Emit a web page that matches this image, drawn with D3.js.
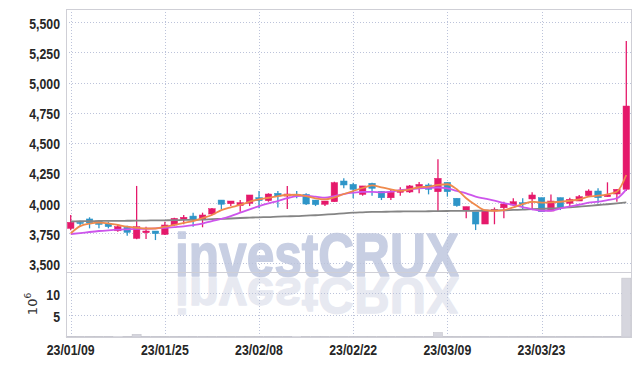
<!DOCTYPE html>
<html>
<head>
<meta charset="utf-8">
<script src="https://cdn.jsdelivr.net/npm/d3@7"></script>
<style>
    body { margin: 0; background: #fff; }
    svg { display: block; }
</style>
</head>
<body>
<svg id="chart"></svg>
<script>
var dates = [
    "23/01/09", "23/01/10", "23/01/11", "23/01/12", "23/01/13", "23/01/16", "23/01/17", "23/01/18", "23/01/19", "23/01/20",
    "23/01/25", "23/01/26", "23/01/27", "23/01/30", "23/01/31", "23/02/01", "23/02/02", "23/02/03", "23/02/06", "23/02/07",
    "23/02/08", "23/02/09", "23/02/10", "23/02/13", "23/02/14", "23/02/15", "23/02/16", "23/02/17", "23/02/20", "23/02/21",
    "23/02/22", "23/02/23", "23/02/24", "23/02/27", "23/02/28", "23/03/02", "23/03/03", "23/03/06", "23/03/07", "23/03/08",
    "23/03/09", "23/03/10", "23/03/13", "23/03/14", "23/03/15", "23/03/16", "23/03/17", "23/03/20", "23/03/21", "23/03/22",
    "23/03/23", "23/03/24", "23/03/27", "23/03/28", "23/03/29", "23/03/30", "23/03/31", "23/04/03", "23/04/04", "23/04/05"
];
var open = [3790, 3840, 3868, 3851, 3829, 3770, 3799, 3707, 3754, 3768,
    3740, 3818, 3865, 3892, 3865, 3909, 4025, 3995, 3978, 3998,
    4045, 4020, 4081, 4058, 4072, 4072, 4025, 3990, 4011, 4183,
    4155, 4072, 4164, 4097, 4044, 4089, 4092, 4136, 4150, 4094,
    4172, 4040, 3937, 3926, 3826, 3934, 3961, 3984, 4003, 4034,
    4045, 3934, 4045, 3998, 4017, 4061, 4100, 4053, 4075, 4114];
var high = [3900, 3853, 3882, 3859, 3845, 3818, 3812, 4142, 3804, 3768,
    3845, 3878, 3901, 3920, 3920, 3959, 4025, 4017, 4025, 4067,
    4100, 4081, 4100, 4142, 4100, 4081, 4025, 4017, 4177, 4205,
    4169, 4142, 4169, 4097, 4108, 4131, 4150, 4175, 4164, 4363,
    4172, 4040, 3970, 3926, 3942, 3963, 4011, 4040, 4040, 4089,
    4045, 4072, 4045, 4045, 4067, 4114, 4122, 4172, 4114, 5345];
var low = [3775, 3804, 3790, 3790, 3790, 3762, 3729, 3700, 3702, 3693,
    3735, 3812, 3824, 3804, 3799, 3901, 3948, 3975, 3928, 3975,
    3957, 4011, 3964, 3951, 4040, 3984, 3975, 3975, 4011, 4122,
    4040, 4061, 4061, 4025, 4025, 4061, 4083, 4081, 4072, 3934,
    4053, 3970, 3874, 3776, 3826, 3824, 3874, 3975, 3942, 3942,
    3928, 3934, 3942, 3965, 4017, 4053, 3998, 4053, 4011, 4100];
var close = [3840, 3832, 3835, 3823, 3804, 3804, 3757, 3804, 3768, 3746,
    3818, 3873, 3882, 3865, 3901, 3953, 3990, 4017, 4003, 4067,
    4020, 4075, 4058, 4075, 4064, 3992, 3987, 4017, 4169, 4150,
    4114, 4142, 4122, 4044, 4089, 4103, 4142, 4155, 4114, 4205,
    4094, 3978, 3970, 3826, 3942, 3948, 3992, 4011, 3992, 4067,
    3928, 4017, 3965, 4031, 4053, 4100, 4044, 4067, 4114, 4805];
var volume = [0.12, 0.08, 0.10, 0.07, 0.09, 0.06, 0.11, 0.60, 0.12, 0.08,
    0.10, 0.09, 0.07, 0.11, 0.08, 0.10, 0.12, 0.07, 0.09, 0.10,
    0.11, 0.08, 0.09, 0.12, 0.06, 0.10, 0.08, 0.07, 0.14, 0.11,
    0.09, 0.08, 0.10, 0.07, 0.09, 0.08, 0.10, 0.09, 0.08, 1.0,
    0.12, 0.10, 0.09, 0.13, 0.11, 0.09, 0.10, 0.08, 0.07, 0.09,
    0.12, 0.10, 0.09, 0.08, 0.07, 0.09, 0.10, 0.12, 0.11, 13.4];
var maShort = [3749, 3809, 3830, 3838, 3832, 3818, 3804, 3795, 3789, 3789,
    3804, 3818, 3836, 3851, 3876, 3901, 3942, 3965, 3984, 4011,
    4031, 4044, 4058, 4067, 4069, 4058, 4039, 4031, 4048, 4075,
    4100, 4125, 4146, 4131, 4114, 4102, 4114, 4131, 4136, 4150,
    4156, 4114, 4040, 3984, 3942, 3936, 3942, 3965, 3992, 4011,
    4003, 4006, 4011, 4019, 4031, 4053, 4061, 4073, 4094, 4233];
var maMid = [3743, 3751, 3760, 3768, 3774, 3779, 3782, 3785, 3787, 3790,
    3795, 3801, 3807, 3816, 3830, 3851, 3868, 3892, 3920, 3948,
    3975, 3998, 4017, 4040, 4058, 4061, 4053, 4044, 4058, 4075,
    4086, 4092, 4092, 4089, 4094, 4108, 4114, 4122, 4127, 4129,
    4122, 4100, 4081, 4053, 4036, 4020, 4000, 3984, 3967, 3948,
    3936, 3936, 3956, 3973, 3986, 4003, 4011, 4025, 4040, 4114];
var maLong = [3848, 3849, 3850, 3851, 3852, 3852, 3853, 3854, 3855, 3856,
    3857, 3858, 3860, 3861, 3862, 3866, 3869, 3872, 3876, 3879,
    3882, 3884, 3888, 3890, 3892, 3896, 3899, 3904, 3909, 3915,
    3920, 3923, 3926, 3927, 3929, 3930, 3931, 3931, 3932, 3933,
    3934, 3935, 3935, 3936, 3937, 3939, 3940, 3943, 3945, 3949,
    3952, 3955, 3960, 3965, 3970, 3977, 3984, 3990, 3997, 4005];
var priceTicks = [3500, 3750, 4000, 4250, 4500, 4750, 5000, 5250, 5500];
var volumeTicks = [5, 10];

(function () {
    var width = 639,
        height = 366,
        left = 66,
        right = 631,
        top = 9,
        split = 272,
        bottom = 337;

    var upColor = '#e5196b',
        downColor = '#2e95c8',
        gridColor = '#bcc3da',
        frameColor = '#cfcfd6',
        labelFont = '"Liberation Sans", Arial, sans-serif',
        narrow = 0.82;

    var svg = d3.select('#chart')
        .attr('width', width)
        .attr('height', height);

    var rows = dates.map(function (d, i) {
        return {date: d, o: open[i], h: high[i], l: low[i], c: close[i], v: volume[i]};
    });

    var x = d3.scaleBand()
        .domain(dates)
        .range([left, right])
        .paddingInner(0.3)
        .paddingOuter(0.15);
    var cx = function (d) { return x(d) + x.bandwidth() / 2; };

    var y = d3.scaleLinear().domain([3428, 5610]).range([split, top]);
    var yv = d3.scaleLinear().domain([0, 14.8]).range([bottom, split]);

    var tickDates = dates.filter(function (d, i) { return i % 10 === 0; });

    // watermark with its reflection
    var wm = svg.append('g')
        .attr('font-family', labelFont)
        .attr('font-weight', 'bold')
        .attr('font-size', 62)
        .attr('stroke-width', 1.6)
        .attr('stroke-linejoin', 'round');
    wm.append('text')
        .attr('transform', 'translate(175,276) scale(0.8,1)')
        .attr('fill', '#c8cfe3')
        .attr('stroke', '#c8cfe3')
        .text('investCRUX');
    wm.append('text')
        .attr('transform', 'translate(175,278) scale(0.8,-0.8)')
        .attr('fill', '#e7e9f1')
        .attr('stroke', '#e7e9f1')
        .text('investCRUX');

    // grid
    var grid = svg.append('g')
        .attr('stroke', gridColor)
        .attr('stroke-width', 1)
        .attr('stroke-dasharray', '1,2');
    grid.selectAll('.hp')
        .data(priceTicks)
        .enter().append('line')
        .attr('x1', left).attr('x2', right)
        .attr('y1', function (d) { return Math.round(y(d)) + 0.5; })
        .attr('y2', function (d) { return Math.round(y(d)) + 0.5; });
    grid.selectAll('.hv')
        .data(volumeTicks)
        .enter().append('line')
        .attr('x1', left).attr('x2', right)
        .attr('y1', function (d) { return Math.round(yv(d)) + 0.5; })
        .attr('y2', function (d) { return Math.round(yv(d)) + 0.5; });
    grid.selectAll('.vx')
        .data(tickDates)
        .enter().append('line')
        .attr('x1', function (d) { return Math.round(cx(d)) + 0.5; })
        .attr('x2', function (d) { return Math.round(cx(d)) + 0.5; })
        .attr('y1', top).attr('y2', bottom);

    // volume bars
    svg.append('g')
        .selectAll('rect')
        .data(rows)
        .enter().append('rect')
        .attr('x', function (d) { return cx(d.date) - 4.5; })
        .attr('width', 9)
        .attr('y', function (d) { return yv(d.v); })
        .attr('height', function (d) { return bottom - yv(d.v); })
        .attr('fill', '#d6d6de')
        .attr('stroke', '#c4c4cc')
        .attr('stroke-width', 0.6);

    // candles
    var candle = svg.append('g')
        .selectAll('g')
        .data(rows)
        .enter().append('g')
        .attr('fill', function (d) { return d.c >= d.o ? upColor : downColor; })
        .attr('stroke', function (d) { return d.c >= d.o ? upColor : downColor; });
    candle.append('line')
        .attr('x1', function (d) { return cx(d.date); })
        .attr('x2', function (d) { return cx(d.date); })
        .attr('y1', function (d) { return y(d.h); })
        .attr('y2', function (d) { return y(d.l); })
        .attr('stroke-width', 1.3);
    candle.append('rect')
        .attr('x', function (d) { return cx(d.date) - 3.25; })
        .attr('width', 6.5)
        .attr('y', function (d) { return y(Math.max(d.o, d.c)); })
        .attr('height', function (d) { return Math.max(1.2, Math.abs(y(d.o) - y(d.c))); })
        .attr('stroke-width', 0.5);

    // moving averages
    var line = d3.line()
        .x(function (d) { return cx(d[0]); })
        .y(function (d) { return y(d[1]); })
        .curve(d3.curveMonotoneX);
    [[maLong, '#858585'], [maMid, '#cd55ec'], [maShort, '#ef8a4c']].forEach(function (s) {
        svg.append('path')
            .datum(dates.map(function (d, i) { return [d, s[0][i]]; }))
            .attr('d', line)
            .attr('fill', 'none')
            .attr('stroke', s[1])
            .attr('stroke-width', 1.8);
    });

    // frame
    var frame = svg.append('g').attr('stroke', frameColor).attr('fill', 'none');
    frame.append('rect')
        .attr('x', left + 0.5).attr('y', top + 0.5)
        .attr('width', right - left).attr('height', bottom - top);
    frame.append('line')
        .attr('x1', left).attr('x2', right + 1)
        .attr('y1', split + 0.5).attr('y2', split + 0.5);

    // axis labels, squeezed to the narrow face of the original
    var labels = svg.append('g')
        .attr('font-family', labelFont)
        .attr('font-weight', 'bold')
        .attr('font-size', 15)
        .attr('fill', '#262626');
    labels.selectAll('.py')
        .data(priceTicks)
        .enter().append('text')
        .attr('transform', function (d) {
            return 'translate(60,' + (y(d) + 6.5) + ') scale(' + narrow + ',1)';
        })
        .attr('text-anchor', 'end')
        .text(d3.format(','));
    labels.selectAll('.vy')
        .data(volumeTicks)
        .enter().append('text')
        .attr('transform', function (d) {
            return 'translate(60,' + (yv(d) + 6.5) + ') scale(' + narrow + ',1)';
        })
        .attr('text-anchor', 'end')
        .text(function (d) { return d; });
    labels.selectAll('.dx')
        .data(tickDates)
        .enter().append('text')
        .attr('transform', function (d) {
            return 'translate(' + cx(d) + ',355) scale(' + narrow + ',1)';
        })
        .attr('text-anchor', 'middle')
        .text(function (d) { return d; });

    var unit = svg.append('text')
        .attr('transform', 'translate(37,304) rotate(-90)')
        .attr('text-anchor', 'middle')
        .attr('font-family', '"DejaVu Sans", sans-serif')
        .attr('font-size', 13)
        .attr('fill', '#333');
    unit.append('tspan').text('10');
    unit.append('tspan').attr('dy', -6).attr('font-size', 9).text('6');
}());
</script>
</body>
</html>
